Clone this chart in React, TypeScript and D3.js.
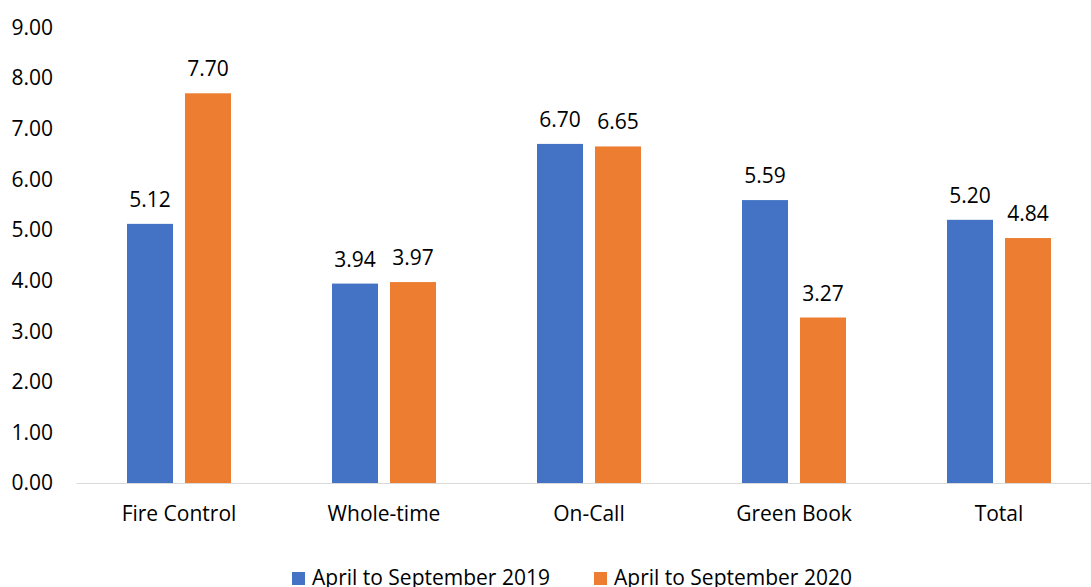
import { useMemo } from 'react'
import { scaleBand, scaleLinear } from 'd3'

const width = 1091
const height = 587

const categories = ['Fire Control', 'Whole-time', 'On-Call', 'Green Book', 'Total']
const seriesNames = ['April to September 2019', 'April to September 2020']
const values2019 = [5.12, 3.94, 6.70, 5.59, 5.20]
const values2020 = [7.70, 3.97, 6.65, 3.27, 4.84]
const yTicks = [0, 1, 2, 3, 4, 5, 6, 7, 8, 9]
const colors = ['#4472C4', '#ED7D31']

const font = '"Open Sans", sans-serif'
const fontSize = 21

const App = () => {
  const series = [values2019, values2020]

  const x0 = useMemo(() => scaleBand<string>().domain(categories).range([76.5, 1101.5]).paddingInner(0.4927).paddingOuter(0.2463), [])
  const x1 = useMemo(() => scaleBand<number>().domain([0, 1]).range([0, x0.bandwidth()]).paddingInner(0.2069), [x0])
  const y = useMemo(() => scaleLinear().domain([0, 9]).range([483, 27.5]), [])

  // legend swatch / label starts
  const legendX = [292, 594]

  return (
    <svg width={width} height={height} style={{ position: 'absolute', left: 0, top: 0 }} fontFamily={font} fontSize={fontSize}>
      <rect width={width} height={height} fill='#fff' />
      {yTicks.map(t => (
        <text key={t} x={53} y={y(t)} dy='0.35em' textAnchor='end' fill='#000'>
          {t.toFixed(2)}
        </text>
      ))}
      <line x1={76.5} x2={width} y1={483.5} y2={483.5} stroke='#d9d9d9' strokeWidth={1} />
      {categories.map((c, i) => (
        <g key={c} transform={`translate(${x0(c)},0)`}>
          {series.map((vals, s) => (
            <g key={s}>
              <rect x={x1(s)} y={y(vals[i])} width={x1.bandwidth()} height={y(0) - y(vals[i])} fill={colors[s]} />
              <text x={(x1(s) as number) + x1.bandwidth() / 2} y={y(vals[i]) - 17} textAnchor='middle' fill='#000'>
                {vals[i].toFixed(2)}
              </text>
            </g>
          ))}
          <text x={x0.bandwidth() / 2} y={521} textAnchor='middle' fill='#000'>{c}</text>
        </g>
      ))}
      {seriesNames.map((name, s) => (
        <g key={name}>
          <rect x={legendX[s]} y={572} width={13} height={13} fill={colors[s]} />
          <text x={legendX[s] + 20} y={585} fill='#000'>{name}</text>
        </g>
      ))}
    </svg>
  )
}

export default App
